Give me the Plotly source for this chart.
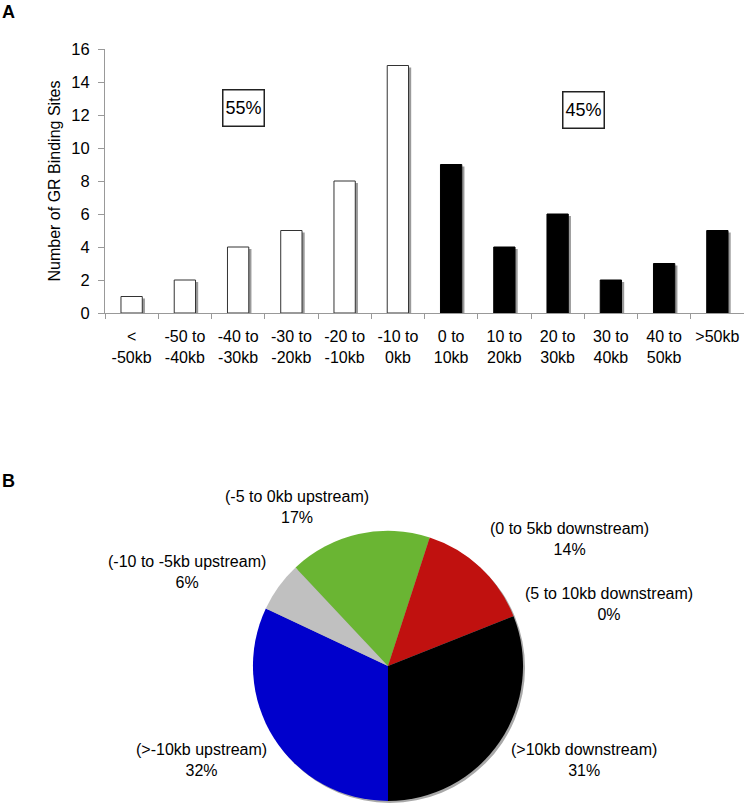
import plotly.graph_objects as go

# ---- Data: panel A (bar chart) ----
up_categories = ["<<br>-50kb", "-50 to<br>-40kb", "-40 to<br>-30kb", "-30 to<br>-20kb",
                 "-20 to<br>-10kb", "-10 to<br>0kb"]
up_counts = [1, 2, 4, 5, 8, 15]
down_categories = ["0 to<br>10kb", "10 to<br>20kb", "20 to<br>30kb", "30 to<br>40kb",
                   "40 to<br>50kb", ">50kb"]
down_counts = [9, 4, 6, 2, 3, 5]
y_ticks = [0, 2, 4, 6, 8, 10, 12, 14, 16]
share_labels = ["55%", "45%"]

# ---- Data: panel B (pie chart) ----
pie_labels = ["(>-10kb upstream)", "(-10 to -5kb upstream)", "(-5 to 0kb upstream)",
              "(0 to 5kb downstream)", "(5 to 10kb downstream)", "(>10kb downstream)"]
pie_pct = [32, 6, 17, 14, 0, 31]
pie_colors = ["#0000CC", "#C0C0C0", "#6AB533", "#C0110F", "#FFFFFF", "#000000"]

FONT = "Arial, Liberation Sans, sans-serif"
W, H = 744, 803

fig = go.Figure()
all_cats = up_categories + down_categories

# bar shadows
for cats, vals in ((up_categories, up_counts), (down_categories, down_counts)):
    fig.add_trace(go.Bar(x=cats, y=vals, base=[-0.12] * len(vals), width=0.4, offset=-0.15,
                         marker=dict(color="#9a9a9a", line=dict(width=0)),
                         showlegend=False, hoverinfo="skip", xaxis="x", yaxis="y"))

fig.add_trace(go.Bar(x=up_categories, y=up_counts, width=0.4, offset=-0.2,
                     marker=dict(color="white", line=dict(color="#333333", width=1)),
                     showlegend=False, xaxis="x", yaxis="y"))
fig.add_trace(go.Bar(x=down_categories, y=down_counts, width=0.4, offset=-0.2,
                     marker=dict(color="black", line=dict(color="black", width=1)),
                     showlegend=False, xaxis="x", yaxis="y"))

pie_dom_x = [0.340, 0.703]
pie_dom_y = [0.0025, 0.339]
# pie shadow
fig.add_trace(go.Pie(values=[sum(pie_pct)], labels=["shadow"], sort=False,
                     marker=dict(colors=["#a8a8a8"], line=dict(width=0)),
                     textinfo="none", showlegend=False, automargin=False, hoverinfo="skip",
                     domain=dict(x=[pie_dom_x[0] + 2 / W, pie_dom_x[1] + 2 / W],
                                 y=[pie_dom_y[0] - 2 / H, pie_dom_y[1] - 2 / H])))
fig.add_trace(go.Pie(labels=pie_labels, values=pie_pct, sort=False, direction="clockwise",
                     rotation=180, marker=dict(colors=pie_colors, line=dict(width=0)),
                     textinfo="none", showlegend=False, automargin=False,
                     domain=dict(x=pie_dom_x, y=pie_dom_y)))

fig.update_layout(
    width=W, height=H, margin=dict(l=0, r=0, t=0, b=0, autoexpand=False),
    paper_bgcolor="white", plot_bgcolor="white",
    barmode="overlay", font=dict(family=FONT, size=16, color="black"),
    xaxis=dict(domain=[105 / W, 1.0], categoryorder="array", categoryarray=all_cats,
               range=[-0.5, 11.5], showline=True, linecolor="#999999", linewidth=1,
               ticks="outside", tickson="boundaries", ticklen=5, tickcolor="#999999",
               showgrid=False, zeroline=False, tickfont=dict(size=16), anchor="y",
               ticklabelstandoff=9, automargin=False),
    yaxis=dict(domain=[1 - 313 / H, 1 - 49 / H], range=[0, 16], tickvals=y_ticks,
               showline=True, linecolor="#999999", linewidth=1, ticks="outside",
               ticklen=6, tickcolor="#999999", showgrid=False, zeroline=False,
               tickfont=dict(size=16.5), automargin=False, ticklabelstandoff=5,
               title=dict(text="Number of GR Binding Sites", font=dict(size=16), standoff=6),
               anchor="x"),
)

box_style = dict(showarrow=False, font=dict(size=18), bordercolor="#222222", borderwidth=1.5,
                 borderpad=1, bgcolor="white", width=38, height=33)
annotations = [
    dict(x=2.1, y=12.42, xref="x", yref="y", text=share_labels[0], **box_style),
    dict(x=8.495, y=12.3, xref="x", yref="y", text=share_labels[1], **box_style),
    dict(x=0, y=1, xref="paper", yref="paper", text="<b>A</b>", showarrow=False,
         xanchor="left", yanchor="top", font=dict(size=18)),
    dict(x=0, y=1 - 481 / H, xref="paper", yref="paper", text="<b>B</b>", showarrow=False,
         xanchor="left", yanchor="middle", font=dict(size=18)),
]

label_pos = [(201, 760), (187, 572), (297, 507), (569, 539), (609, 604), (584, 760)]
for lab, pct, (px, py) in zip(pie_labels, pie_pct, label_pos):
    annotations.append(dict(x=px / W, y=1 - py / H, xref="paper", yref="paper",
                            text=f"{lab}<br>{pct}%", showarrow=False, align="center",
                            xanchor="center", yanchor="middle", font=dict(size=16)))

fig.update_layout(annotations=annotations)
fig.write_html("out.html", config={"displayModeBar": False},
               post_script="document.body.style.margin='0';document.body.style.overflow='hidden';")
